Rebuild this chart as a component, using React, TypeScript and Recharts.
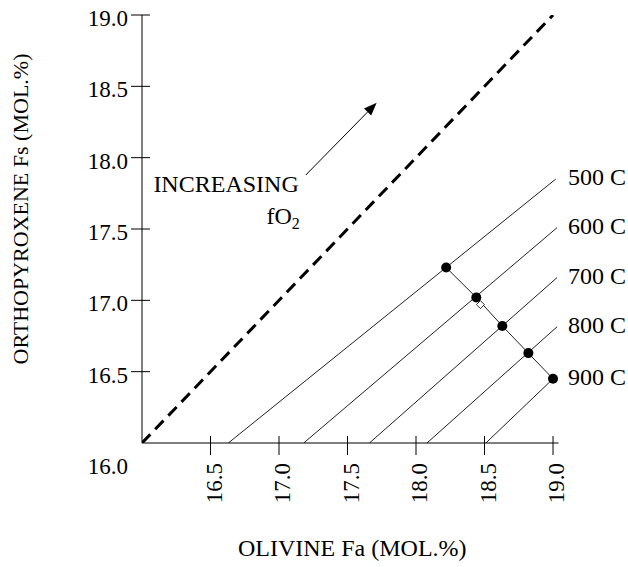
import { LineChart, Line, XAxis, YAxis, ReferenceLine, LabelList, Label } from "recharts";

const FONT = '"Liberation Serif", "Times New Roman", serif';

// olivine Fa (x) and orthopyroxene Fs (y), mol.%
const xTicks = [16.5, 17.0, 17.5, 18.0, 18.5, 19.0];
const yTicks = [16.0, 16.5, 17.0, 17.5, 18.0, 18.5, 19.0];

const equalLine = [
  { fa: 16.0, fs: 16.0 },
  { fa: 19.0, fs: 19.0 }
];

const iso500 = [
  { fa: 16.63, fs: 16.0 },
  { fa: 19.02, fs: 17.85, tag: "500 C" }
];
const iso600 = [
  { fa: 17.18, fs: 16.0 },
  { fa: 19.03, fs: 17.51, tag: "600 C" }
];
const iso700 = [
  { fa: 17.66, fs: 16.0 },
  { fa: 19.03, fs: 17.16, tag: "700 C" }
];
const iso800 = [
  { fa: 18.08, fs: 16.0 },
  { fa: 19.03, fs: 16.815, tag: "800 C" }
];
const iso900 = [
  { fa: 18.51, fs: 16.0 },
  { fa: 19.0, fs: 16.45, tag: "900 C" }
];
const isotherms = [iso500, iso600, iso700, iso800, iso900];

const samplePoints = [
  { fa: 18.22, fs: 17.23 },
  { fa: 18.44, fs: 17.02 },
  { fa: 18.63, fs: 16.82 },
  { fa: 18.82, fs: 16.63 },
  { fa: 19.0, fs: 16.45 }
];
const openPoint = [{ fa: 18.47, fs: 16.97 }];

const fo2Arrow = [
  { x: 17.195, y: 17.878 },
  { x: 17.713, y: 18.385 }
];

const XTick = (props: any) => {
  const { x, y, payload } = props;
  return (
    <g>
      <line x1={x} y1={y - 7} x2={x} y2={y + 12} stroke="#000" />
      <text
        transform={`translate(${x + 11},${y + 20}) rotate(-90)`}
        textAnchor="end"
        fontFamily={FONT}
        fontSize={23}
        fill="#000"
      >
        {Number(payload.value).toFixed(1)}
      </text>
    </g>
  );
};

const YTick = (props: any) => {
  const { x, y, payload } = props;
  const origin = payload.value === 16;
  return (
    <g>
      {!origin && <line x1={x - 11} y1={y} x2={x + 8} y2={y} stroke="#000" />}
      <text
        x={x - 14}
        y={origin ? y + 31 : y + 11}
        textAnchor="end"
        fontFamily={FONT}
        fontSize={23}
        fill="#000"
      >
        {Number(payload.value).toFixed(1)}
      </text>
    </g>
  );
};

const IsoLabel = (props: any) => {
  const { value } = props;
  if (!value) return null;
  const y = props.y ?? props.viewBox?.y;
  return (
    <text x={568} y={y + 6} fontFamily={FONT} fontSize={24} fill="#000">
      {value}
    </text>
  );
};

const OpenDiamond = (props: any) => {
  const { cx, cy } = props;
  return (
    <polygon
      points={`${cx},${cy - 4} ${cx + 4},${cy} ${cx},${cy + 4} ${cx - 4},${cy}`}
      fill="#fff"
      stroke="#000"
      strokeWidth={0.8}
    />
  );
};

const ArrowShape = (p: any) => {
  const { x1, y1, x2, y2 } = p;
  const dx = x2 - x1;
  const dy = y2 - y1;
  const len = Math.hypot(dx, dy);
  const ux = dx / len;
  const uy = dy / len;
  const bx = x2 - ux * 13;
  const by = y2 - uy * 13;
  const pts = `${x2},${y2} ${bx - uy * 5},${by + ux * 5} ${bx + uy * 5},${by - ux * 5}`;
  return (
    <g>
      <line x1={x1} y1={y1} x2={bx} y2={by} stroke="#000" strokeWidth={1} />
      <polygon points={pts} fill="#000" />
      <text x={x1 - 7} y={y1 + 17} textAnchor="end" fontFamily={FONT} fontSize={24} fill="#000">
        INCREASING
      </text>
      <text x={x1 - 6} y={y1 + 49} textAnchor="end" fontFamily={FONT} fontSize={24} fill="#000">
        fO<tspan dy={5} fontSize={16}>2</tspan>
      </text>
    </g>
  );
};

const XTitle = (props: any) => {
  const vb = props.viewBox;
  return (
    <text x={vb.x + vb.width / 2 + 2} y={vb.y + 113} textAnchor="middle" fontFamily={FONT} fontSize={24} fill="#000">
      OLIVINE Fa (MOL.%)
    </text>
  );
};

const YTitle = (props: any) => {
  const vb = props.viewBox;
  const cy = vb.y + vb.height / 2 - 20;
  return (
    <text
      transform={`translate(28,${cy}) rotate(-90)`}
      textAnchor="middle"
      fontFamily={FONT}
      fontSize={22}
      fill="#000"
    >
      ORTHOPYROXENE Fs (MOL.%)
    </text>
  );
};

export default function App() {
  return (
    <div style={{ position: "absolute", left: 0, top: 0, background: "#fff" }}>
      <LineChart width={628} height={567} margin={{ top: 15, right: 69.5, bottom: 0, left: 0 }}>
        <XAxis
          type="number"
          dataKey="fa"
          domain={[16, 19.04]}
          ticks={xTicks}
          interval={0}
          allowDataOverflow
          height={124}
          tickSize={0}
          tickMargin={0}
          tickLine={false}
          axisLine={{ stroke: "#000" }}
          tick={XTick}
        >
          <Label content={XTitle} />
        </XAxis>
        <YAxis
          type="number"
          dataKey="fs"
          domain={[16, 19]}
          ticks={yTicks}
          interval={0}
          allowDataOverflow
          width={142}
          tickSize={0}
          tickMargin={0}
          tickLine={false}
          axisLine={{ stroke: "#000" }}
          tick={YTick}
        >
          <Label content={YTitle} />
        </YAxis>
        {isotherms.map((d, i) => (
          <Line
            key={i}
            data={d}
            dataKey="fs"
            stroke="#222"
            strokeWidth={1}
            dot={false}
            activeDot={false}
            isAnimationActive={false}
          >
            <LabelList dataKey="tag" content={IsoLabel} />
          </Line>
        ))}
        <Line
          data={samplePoints}
          dataKey="fs"
          stroke="#222"
          strokeWidth={1}
          dot={{ r: 5, fill: "#000", stroke: "#000", strokeWidth: 0 }}
          activeDot={false}
          isAnimationActive={false}
        />
        <Line
          data={openPoint}
          dataKey="fs"
          stroke="none"
          dot={OpenDiamond}
          activeDot={false}
          isAnimationActive={false}
        />
        <Line
          data={equalLine}
          dataKey="fs"
          stroke="#000"
          strokeWidth={3}
          strokeDasharray="12 7"
          dot={false}
          activeDot={false}
          isAnimationActive={false}
        />
        <ReferenceLine segment={fo2Arrow} shape={ArrowShape} ifOverflow="visible" />
      </LineChart>
    </div>
  );
}
